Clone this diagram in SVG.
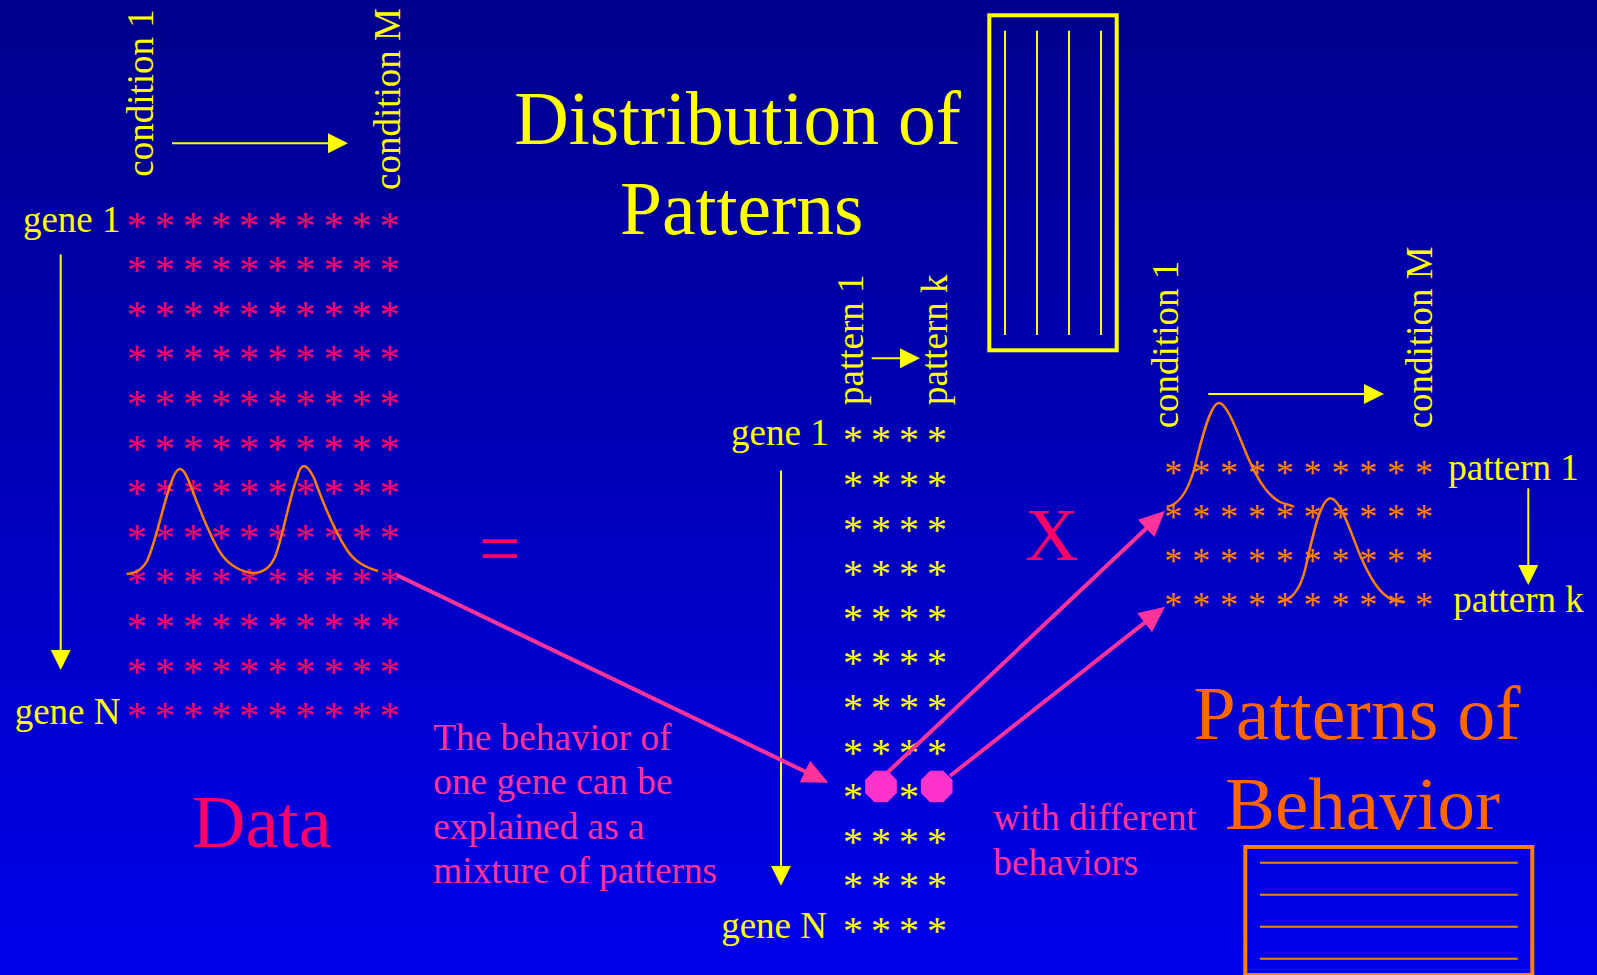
<svg xmlns="http://www.w3.org/2000/svg" width="1597" height="975" viewBox="0 0 1597 975">
  <defs>
    <linearGradient id="bg" x1="0" y1="0" x2="0" y2="1">
      <stop offset="0" stop-color="#00008C"/>
      <stop offset="1" stop-color="#0000EB"/>
    </linearGradient>
    <marker id="headYellow" markerUnits="userSpaceOnUse" markerWidth="20" markerHeight="20" refX="8" refY="10" orient="auto">
      <path d="M0,0 L20,10 L0,20 z" fill="#FFFF00"/>
    </marker>
    <marker id="headPink" markerUnits="userSpaceOnUse" markerWidth="26" markerHeight="24" refX="10" refY="12" orient="auto">
      <path d="M0,0 L26,12 L0,24 z" fill="#FF3399"/>
    </marker>
    <polygon id="oct" points="15.85,6.56 6.56,15.85 -6.56,15.85 -15.85,6.56 -15.85,-6.56 -6.56,-15.85 6.56,-15.85 15.85,-6.56"/>
  </defs>
  <style>
    text { font-family: "Liberation Serif", "Times New Roman", serif; }
    .lbl { fill: #FFFF00; font-size: 37px; }
    .end { text-anchor: end; }
    .starR { fill: #FF0066; font-size: 40px; }
    .starY { fill: #FFFF00; font-size: 40px; }
    .starO { fill: #FF8000; font-size: 36px; }
    .axis { stroke: #FFFF00; stroke-width: 2; fill: none; marker-end: url(#headYellow); }
    .curve { stroke: #FF8000; stroke-width: 2.5; fill: none; }
    .link { stroke: #FF3399; stroke-width: 4; fill: none; marker-end: url(#headPink); }
    .note { fill: #FF3399; font-size: 37.3px; }
    .big { font-size: 74px; }
  </style>

  <rect x="0" y="0" width="1597" height="975" fill="url(#bg)"/>

  <!-- gene x condition data matrix -->
  <g id="data-matrix">
    <text class="lbl" transform="translate(152.7,176.7) rotate(-90)">condition 1</text>
    <text class="lbl" transform="translate(400,190) rotate(-90)">condition M</text>
    <path class="axis" d="M172,143.3 H336"/>
    <text class="lbl end" x="120.5" y="232">gene 1</text>
    <text class="lbl end" x="120.5" y="724">gene N</text>
    <path class="axis" d="M60.7,254.6 V658"/>
    <g class="starR">
      <text x="126.7 154.8 182.9 211 239.1 267.2 295.3 323.4 351.5 379.6" y="238.5">**********</text>
      <text x="126.7 154.8 182.9 211 239.1 267.2 295.3 323.4 351.5 379.6" y="283.1">**********</text>
      <text x="126.7 154.8 182.9 211 239.1 267.2 295.3 323.4 351.5 379.6" y="327.7">**********</text>
      <text x="126.7 154.8 182.9 211 239.1 267.2 295.3 323.4 351.5 379.6" y="372.3">**********</text>
      <text x="126.7 154.8 182.9 211 239.1 267.2 295.3 323.4 351.5 379.6" y="416.9">**********</text>
      <text x="126.7 154.8 182.9 211 239.1 267.2 295.3 323.4 351.5 379.6" y="461.5">**********</text>
      <text x="126.7 154.8 182.9 211 239.1 267.2 295.3 323.4 351.5 379.6" y="506.1">**********</text>
      <text x="126.7 154.8 182.9 211 239.1 267.2 295.3 323.4 351.5 379.6" y="550.7">**********</text>
      <text x="126.7 154.8 182.9 211 239.1 267.2 295.3 323.4 351.5 379.6" y="595.3">**********</text>
      <text x="126.7 154.8 182.9 211 239.1 267.2 295.3 323.4 351.5 379.6" y="639.9">**********</text>
      <text x="126.7 154.8 182.9 211 239.1 267.2 295.3 323.4 351.5 379.6" y="684.5">**********</text>
      <text x="126.7 154.8 182.9 211 239.1 267.2 295.3 323.4 351.5 379.6" y="729.1">**********</text>
    </g>
    <path class="curve" d="M126.7,574 C138,573 143,568 147,561 C155,545 163,505 171,483 C174,474 177,469 180,469 C184,469 188,478 193,492 C203,518 213,543 222,555 C230,566 242,572 253,573 C262,573 270,568 275,557 C282,540 290,495 297,478 C299,470 301,466 304,466 C307,466 310,470 314,478 C322,500 335,532 347,550 C355,562 365,567 378,571"/>
    <text x="192" y="847" fill="#FF0066" class="big">Data</text>
  </g>

  <text id="equals" x="479" y="573" fill="#FF0066" class="big">=</text>

  <!-- gene x pattern mixing weights -->
  <g id="pattern-distribution">
    <text x="737.5" y="144" fill="#FFFF00" font-size="75.5" text-anchor="middle">Distribution of</text>
    <text x="741.7" y="234" fill="#FFFF00" font-size="75.5" text-anchor="middle">Patterns</text>
    <rect x="989.3" y="15.3" width="127.4" height="335" fill="none" stroke="#FFFF00" stroke-width="4"/>
    <g stroke="#FFFF00" stroke-width="2">
      <line x1="1005" y1="30.7" x2="1005" y2="335"/>
      <line x1="1037" y1="30.7" x2="1037" y2="335"/>
      <line x1="1069" y1="30.7" x2="1069" y2="335"/>
      <line x1="1101" y1="30.7" x2="1101" y2="335"/>
    </g>
    <text class="lbl" transform="translate(863.3,405) rotate(-90)">pattern 1</text>
    <text class="lbl" transform="translate(946.7,405) rotate(-90)">pattern k</text>
    <path class="axis" d="M871.7,358.3 H908"/>
    <text class="lbl end" x="828.7" y="445">gene 1</text>
    <text class="lbl end" x="827" y="938">gene N</text>
    <path class="axis" d="M781,470.5 V873.7"/>
    <g class="starY">
      <text x="843 871 899 927" y="453.3">****</text>
      <text x="843 871 899 927" y="497.9">****</text>
      <text x="843 871 899 927" y="542.5">****</text>
      <text x="843 871 899 927" y="587.1">****</text>
      <text x="843 871 899 927" y="631.7">****</text>
      <text x="843 871 899 927" y="676.3">****</text>
      <text x="843 871 899 927" y="720.9">****</text>
      <text x="843 871 899 927" y="765.5">****</text>
      <text x="843 899" y="810.1">**</text>
      <text x="843 871 899 927" y="854.7">****</text>
      <text x="843 871 899 927" y="899.3">****</text>
      <text x="843 871 899 927" y="943.9">****</text>
    </g>
    <use href="#oct" x="881" y="786.5" fill="#FF33CC"/>
    <use href="#oct" x="936.7" y="786.5" fill="#FF33CC"/>
  </g>

  <text id="times" x="1025" y="560" fill="#FF0066" class="big">X</text>

  <!-- pattern x condition profiles -->
  <g id="behavior-patterns">
    <text class="lbl" transform="translate(1178.3,428.3) rotate(-90)">condition 1</text>
    <text class="lbl" transform="translate(1431.7,428.3) rotate(-90)">condition M</text>
    <path class="axis" d="M1208.3,394 H1372"/>
    <g class="starO">
      <text x="1164.3 1192.2 1220 1247.9 1275.7 1303.6 1331.4 1359.3 1387.1 1415" y="485">**********</text>
      <text x="1164.3 1192.2 1220 1247.9 1275.7 1303.6 1331.4 1359.3 1387.1 1415" y="529">**********</text>
      <text x="1164.3 1192.2 1220 1247.9 1275.7 1303.6 1331.4 1359.3 1387.1 1415" y="573">**********</text>
      <text x="1164.3 1192.2 1220 1247.9 1275.7 1303.6 1331.4 1359.3 1387.1 1415" y="617">**********</text>
    </g>
    <path class="curve" d="M1166.7,506.7 C1180,505 1188,490 1194,470 C1200,445 1210,403 1219,403 C1228,403 1240,440 1250,462 C1258,480 1268,496 1280,502 C1286,505 1290,504 1294,507"/>
    <path class="curve" d="M1280,601.7 C1292,600 1300,590 1305,570 C1312,540 1320,498 1330.7,498.3 C1340,499 1350,530 1360,555 C1370,578 1380,595 1393,600 C1398,602 1402,601 1405,602"/>
    <text class="lbl" x="1448.3" y="480">pattern 1</text>
    <text class="lbl" x="1453.3" y="611.7">pattern k</text>
    <path class="axis" d="M1528.3,488.3 V573"/>
    <text x="1357" y="738.5" fill="#FF6600" font-size="76" text-anchor="middle">Patterns of</text>
    <text x="1362.5" y="828.5" fill="#FF6600" font-size="75" text-anchor="middle">Behavior</text>
    <rect x="1245.3" y="847" width="287" height="128" fill="none" stroke="#FF8000" stroke-width="4"/>
    <g stroke="#FF8000" stroke-width="2">
      <line x1="1260" y1="862.7" x2="1517.7" y2="862.7"/>
      <line x1="1260" y1="894.7" x2="1517.7" y2="894.7"/>
      <line x1="1260" y1="926.7" x2="1517.7" y2="926.7"/>
      <line x1="1260" y1="958.7" x2="1517.7" y2="958.7"/>
    </g>
  </g>

  <g id="notes">
    <text class="note">
      <tspan x="433.3" y="749.5">The behavior of</tspan>
      <tspan x="433.3" y="794">one gene can be</tspan>
      <tspan x="433.3" y="838.5">explained as a</tspan>
      <tspan x="433.3" y="883">mixture of patterns</tspan>
    </text>
    <text class="note">
      <tspan x="993.3" y="830.3">with different</tspan>
      <tspan x="993.3" y="874.8">behaviors</tspan>
    </text>
  </g>

  <!-- links from one gene row to its patterns -->
  <g id="connectors">
    <path class="link" d="M396.7,575 L813.9,775.8"/>
    <path class="link" d="M888.3,771.7 L1153.4,521.7"/>
    <path class="link" d="M950,776 L1152.4,616.6"/>
  </g>
</svg>
